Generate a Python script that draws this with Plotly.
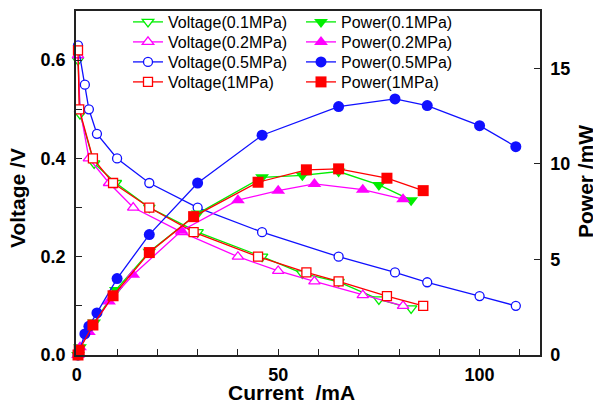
import plotly.graph_objects as go

# Fuel-cell polarisation (voltage) and power curves at four pressures
current_01 = [0.3, 0.8, 4.3, 9.7, 18, 30, 46, 56, 65, 75, 83]
voltage_01 = [0.60, 0.49, 0.39, 0.35, 0.30, 0.25, 0.20, 0.166, 0.149, 0.113, 0.095]
power_01 = [0.0, 0.4, 1.7, 3.4, 5.4, 7.4, 9.3, 9.4, 9.6, 8.9, 8.1]

current_02 = [0.3, 0.8, 3, 8, 14, 26, 40, 50, 59, 71, 81]
voltage_02 = [0.61, 0.50, 0.40, 0.35, 0.30, 0.25, 0.20, 0.171, 0.15, 0.122, 0.10]
power_02 = [0.0, 0.4, 1.2, 2.8, 4.2, 6.5, 8.1, 8.6, 8.95, 8.65, 8.15]

current_05 = [0.3, 2, 3, 5, 10, 18, 30, 46, 65, 79, 87, 100, 109]
voltage_05 = [0.63, 0.55, 0.50, 0.45, 0.40, 0.35, 0.30, 0.25, 0.20, 0.168, 0.148, 0.12, 0.10]
power_05 = [0.0, 1.1, 1.5, 2.2, 4.0, 6.3, 9.0, 11.5, 13.0, 13.4, 13.05, 12.0, 10.9]

current_1 = [0.3, 0.6, 4, 9, 18, 29, 45, 57, 65, 77, 86]
voltage_1 = [0.62, 0.50, 0.40, 0.35, 0.30, 0.25, 0.20, 0.168, 0.15, 0.12, 0.10]
power_1 = [0.0, 0.25, 1.57, 3.1, 5.36, 7.24, 9.04, 9.69, 9.74, 9.25, 8.6]

pressures = ["0.1MPa", "0.2MPa", "0.5MPa", "1MPa"]
colors = ["#00ee00", "#ff00ff", "#1010ff", "#ff0000"]
symbols = ["triangle-down", "triangle-up", "circle", "square"]
sizes = [10, 10, 9, 9]

series = [
    (current_01, voltage_01, power_01),
    (current_02, voltage_02, power_02),
    (current_05, voltage_05, power_05),
    (current_1, voltage_1, power_1),
]

FONT = "Liberation Sans, Arial, sans-serif"

# plot-area geometry in pixels (used to place legends / titles in paper units)
PLOT_L, PLOT_R, PLOT_T, PLOT_B = 76, 540, 11, 355
PW, PH = PLOT_R - PLOT_L, PLOT_B - PLOT_T


def px_x(px):
    return (px - PLOT_L) / PW


def px_y(py):
    return (PLOT_B - py) / PH


fig = go.Figure()
legends = {}
ROW0, ROW_STEP = 21, 20
COL_X = [128, 301]

for i, ((cur, volt, pw), p, c, s, sz) in enumerate(zip(series, pressures, colors, symbols, sizes)):
    key_v = "legend" if i == 0 else f"legend{i + 1}"
    key_p = f"legend{i + 5}"
    fig.add_trace(go.Scatter(
        x=cur, y=volt, name=f"Voltage({p})", mode="lines+markers",
        line=dict(color=c, width=1.3),
        marker=dict(symbol=s, size=sz, color="white", line=dict(color=c, width=1.3)),
        cliponaxis=False, legend=key_v, yaxis="y",
    ))
    fig.add_trace(go.Scatter(
        x=cur, y=pw, name=f"Power({p})", mode="lines+markers",
        line=dict(color=c, width=1.3),
        marker=dict(symbol=s, size=sz + 2, color=c, line=dict(width=0)),
        cliponaxis=False, legend=key_p, yaxis="y2",
    ))
    row_center = ROW0 + ROW_STEP * i
    for key, col in ((key_v, 0), (key_p, 1)):
        legends[key] = dict(
            x=px_x(COL_X[col]), y=px_y(row_center - 16), xanchor="left", yanchor="top",
            bgcolor="rgba(0,0,0,0)", borderwidth=0,
            font=dict(family=FONT, size=16, color="black"),
        )

axis_line = dict(showline=True, linecolor="#222", linewidth=1.5, showgrid=False,
                 zeroline=False, ticks="inside", ticklen=6, tickwidth=1.2, tickcolor="#222",
                 tickfont=dict(family=FONT, size=18, color="black", weight="bold"))

fig.update_layout(
    width=593, height=401,
    margin=dict(l=PLOT_L, r=593 - PLOT_R, t=PLOT_T, b=401 - PLOT_B, autoexpand=False),
    plot_bgcolor="white", paper_bgcolor="white",
    showlegend=True,
    xaxis=dict(range=[-0.2, 115], dtick=50, tick0=0, mirror=True,
               minor=dict(dtick=10, ticks="inside", ticklen=6, tickcolor="#222"),
               ticklabelstandoff=3, **axis_line),
    yaxis=dict(range=[0, 0.7], dtick=0.2, tick0=0, tickformat=".1f",
               minor=dict(dtick=0.1, ticks="inside", ticklen=6, tickcolor="#222"),
               ticklabelstandoff=5, **axis_line),
    yaxis2=dict(range=[0, 18], dtick=5, tick0=0, overlaying="y", side="right",
                ticklabelstandoff=5, **axis_line),
    **legends,
)

title_font = dict(family=FONT, size=21, color="black", weight="bold")
fig.add_annotation(text="Current  /mA", xref="paper", yref="paper",
                   x=px_x(291), y=px_y(392),
                   xanchor="center", yanchor="middle", showarrow=False, font=title_font)
fig.add_annotation(text="Voltage /V", xref="paper", yref="paper",
                   x=px_x(17), y=px_y(198), textangle=-90,
                   xanchor="center", yanchor="middle", showarrow=False, font=title_font)
fig.add_annotation(text="Power /mW", xref="paper", yref="paper",
                   x=px_x(585), y=px_y(182), textangle=-90,
                   xanchor="center", yanchor="middle", showarrow=False, font=title_font)

fig.write_html("out.html")
